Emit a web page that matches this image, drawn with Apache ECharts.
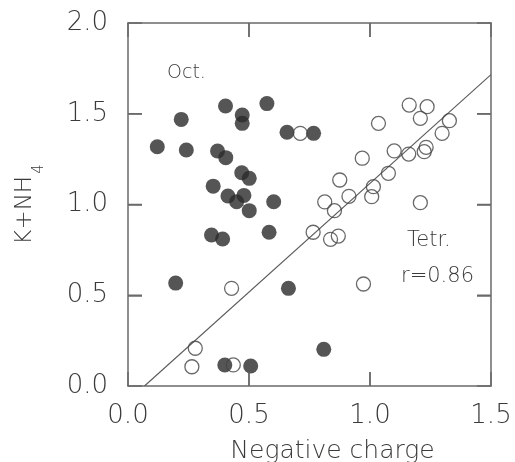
<!DOCTYPE html>
<html>
<head>
<meta charset="utf-8">
<script src="https://cdn.jsdelivr.net/npm/echarts@6/dist/echarts.min.js"></script>
<style>html,body{margin:0;padding:0;background:#fff}#c{width:515px;height:462px}</style>
</head>
<body>
<div id="c"></div>
<script>
// Oct. (filled) points: [negative charge, K+NH4]
const octData = [
  [0.197,0.567],[0.121,1.318],[0.220,1.469],[0.241,1.300],[0.403,1.543],
  [0.472,1.493],[0.472,1.447],[0.574,1.556],[0.370,1.295],[0.404,1.258],
  [0.470,1.175],[0.501,1.144],[0.352,1.101],[0.413,1.047],[0.449,1.015],
  [0.479,1.050],[0.501,0.966],[0.602,1.015],[0.345,0.832],[0.391,0.810],
  [0.583,0.847],[0.657,1.398],[0.767,1.392],[0.663,0.538],[0.809,0.202],
  [0.400,0.116],[0.507,0.110]
];
// Tetr. (open) points
const tetrData = [
  [1.162,1.548],[1.236,1.539],[1.208,1.475],[1.328,1.462],[1.035,1.447],
  [1.298,1.392],[1.232,1.315],[1.224,1.291],[1.100,1.295],[1.160,1.278],
  [0.968,1.255],[1.076,1.172],[0.875,1.135],[1.014,1.098],[1.007,1.043],
  [0.913,1.045],[0.813,1.014],[0.853,0.966],[1.208,1.010],[0.765,0.847],
  [0.837,0.808],[0.869,0.826],[0.973,0.562],[0.428,0.538],[0.278,0.208],
  [0.264,0.106],[0.435,0.116],[0.712,1.392]
];
// Regression line for Tetr.
const regSlope = 1.198;
const regIntercept = -0.0815;
const regXRange = [-regIntercept / regSlope, 1.5];
const xTicks = ['0.0','0.5','1.0','1.5'];
const yTicks = ['0.0','0.5','1.0','1.5','2.0'];

const regLine = regXRange.map(x => [x, regSlope * x + regIntercept]);
const xMin = parseFloat(xTicks[0]), xMax = parseFloat(xTicks[xTicks.length - 1]);
const yMin = parseFloat(yTicks[0]), yMax = parseFloat(yTicks[yTicks.length - 1]);
const xInner = xTicks.slice(1, -1).map(parseFloat);
const yInner = yTicks.slice(1, -1).map(parseFloat);

const GRID = {left: 128, right: 24, top: 23, bottom: 76};
const FONT = '"DejaVu Sans", sans-serif';
const TXT = '#3a3a3a';
const AX = '#6a6a6a';
const TICK_LEN = 14; // px, inward

function mainAxis(extra) {
  return Object.assign({
    type: 'value',
    axisLine: {show: true, onZero: false, lineStyle: {color: AX, width: 1.5}},
    axisTick: {show: true, inside: true, length: TICK_LEN, lineStyle: {color: AX, width: 1.5}},
    splitLine: {show: false}
  }, extra);
}

const texts = [
  {type: 'text', z: 100, left: 167, top: 64, style: {text: 'Oct.', font: '200 19px ' + FONT, fill: TXT}},
  {type: 'text', z: 100, left: 407, top: 230, style: {text: 'Tetr.', font: '200 21px ' + FONT, fill: TXT}},
  {type: 'text', z: 100, left: 401, top: 266, style: {text: 'r=0.86', font: '200 21px ' + FONT, fill: TXT}}
];

const chart = echarts.init(document.getElementById('c'), null, {renderer: 'canvas'});
chart.setOption({
  animation: false,
  backgroundColor: '#fff',
  grid: Object.assign({outerBoundsMode: 'none', containLabel: false}, GRID),
  xAxis: [
    mainAxis({
      min: xMin, max: xMax, interval: 0.5, position: 'bottom',
      name: 'Negative charge', nameLocation: 'middle', nameGap: 53,
      nameTextStyle: {fontFamily: FONT, fontSize: 25, color: TXT, fontWeight: 200, padding: [0, 0, 0, 46]},
      axisLabel: {margin: 17, fontFamily: FONT, fontSize: 26, color: TXT, fontWeight: 200,
        formatter: v => xTicks[Math.round(v / 0.5)]}
    }),
    mainAxis({min: xMin, max: xMax, interval: 0.5, position: 'top', axisLabel: {show: false}})
  ],
  yAxis: [
    mainAxis({
      min: yMin, max: yMax, interval: 0.5, position: 'left',
      name: 'K+NH{sub|4}', nameLocation: 'middle', nameGap: 91, nameRotate: 90,
      nameTextStyle: {fontFamily: FONT, fontSize: 23, color: TXT, fontWeight: 200,
        rich: {sub: {fontFamily: FONT, fontSize: 15, color: TXT, fontWeight: 200, verticalAlign: 'bottom', padding: [0,0,-10,2]}}},
      axisLabel: {margin: 20, fontFamily: FONT, fontSize: 26, color: TXT, fontWeight: 200,
        formatter: v => yTicks[Math.round(v / 0.5)]}
    }),
    mainAxis({min: yMin, max: yMax, interval: 0.5, position: 'right', axisLabel: {show: false}})
  ],
  series: [
    {
      type: 'line', data: regLine, showSymbol: false, symbol: 'none', xAxisIndex: 0, yAxisIndex: 0,
      lineStyle: {color: '#5a5a5a', width: 1.1}, z: 1, silent: true
    },
    {
      type: 'scatter', data: octData, symbol: 'circle', symbolSize: 15, xAxisIndex: 0, yAxisIndex: 0,
      itemStyle: {color: '#2b2b2b', borderColor: '#2b2b2b', borderWidth: 0}, z: 3
    },
    {
      type: 'scatter', data: tetrData, symbol: 'circle', symbolSize: 14, xAxisIndex: 0, yAxisIndex: 0,
      itemStyle: {color: 'rgba(255,255,255,0)', borderColor: '#444', borderWidth: 1.3}, z: 4
    }
  ],
  graphic: texts
});

// Inward tick marks placed through the chart's own axis scales
const tickLines = [];
const px = (v) => chart.convertToPixel({xAxisIndex: 0, yAxisIndex: 0}, v);
xInner.forEach(v => {
  const b = px([v, yMin]), t = px([v, yMax]);
  tickLines.push({x1: b[0], y1: b[1], x2: b[0], y2: b[1] - TICK_LEN});
  tickLines.push({x1: t[0], y1: t[1], x2: t[0], y2: t[1] + TICK_LEN});
});
yInner.forEach(v => {
  const l = px([xMin, v]), r = px([xMax, v]);
  tickLines.push({x1: l[0], y1: l[1], x2: l[0] + TICK_LEN, y2: l[1]});
  tickLines.push({x1: r[0], y1: r[1], x2: r[0] - TICK_LEN, y2: r[1]});
});
chart.setOption({
  graphic: texts.concat(tickLines.map(s => ({
    type: 'line', z: 100, silent: true, shape: s, style: {stroke: AX, lineWidth: 1.5}
  })))
});
</script>
</body>
</html>
